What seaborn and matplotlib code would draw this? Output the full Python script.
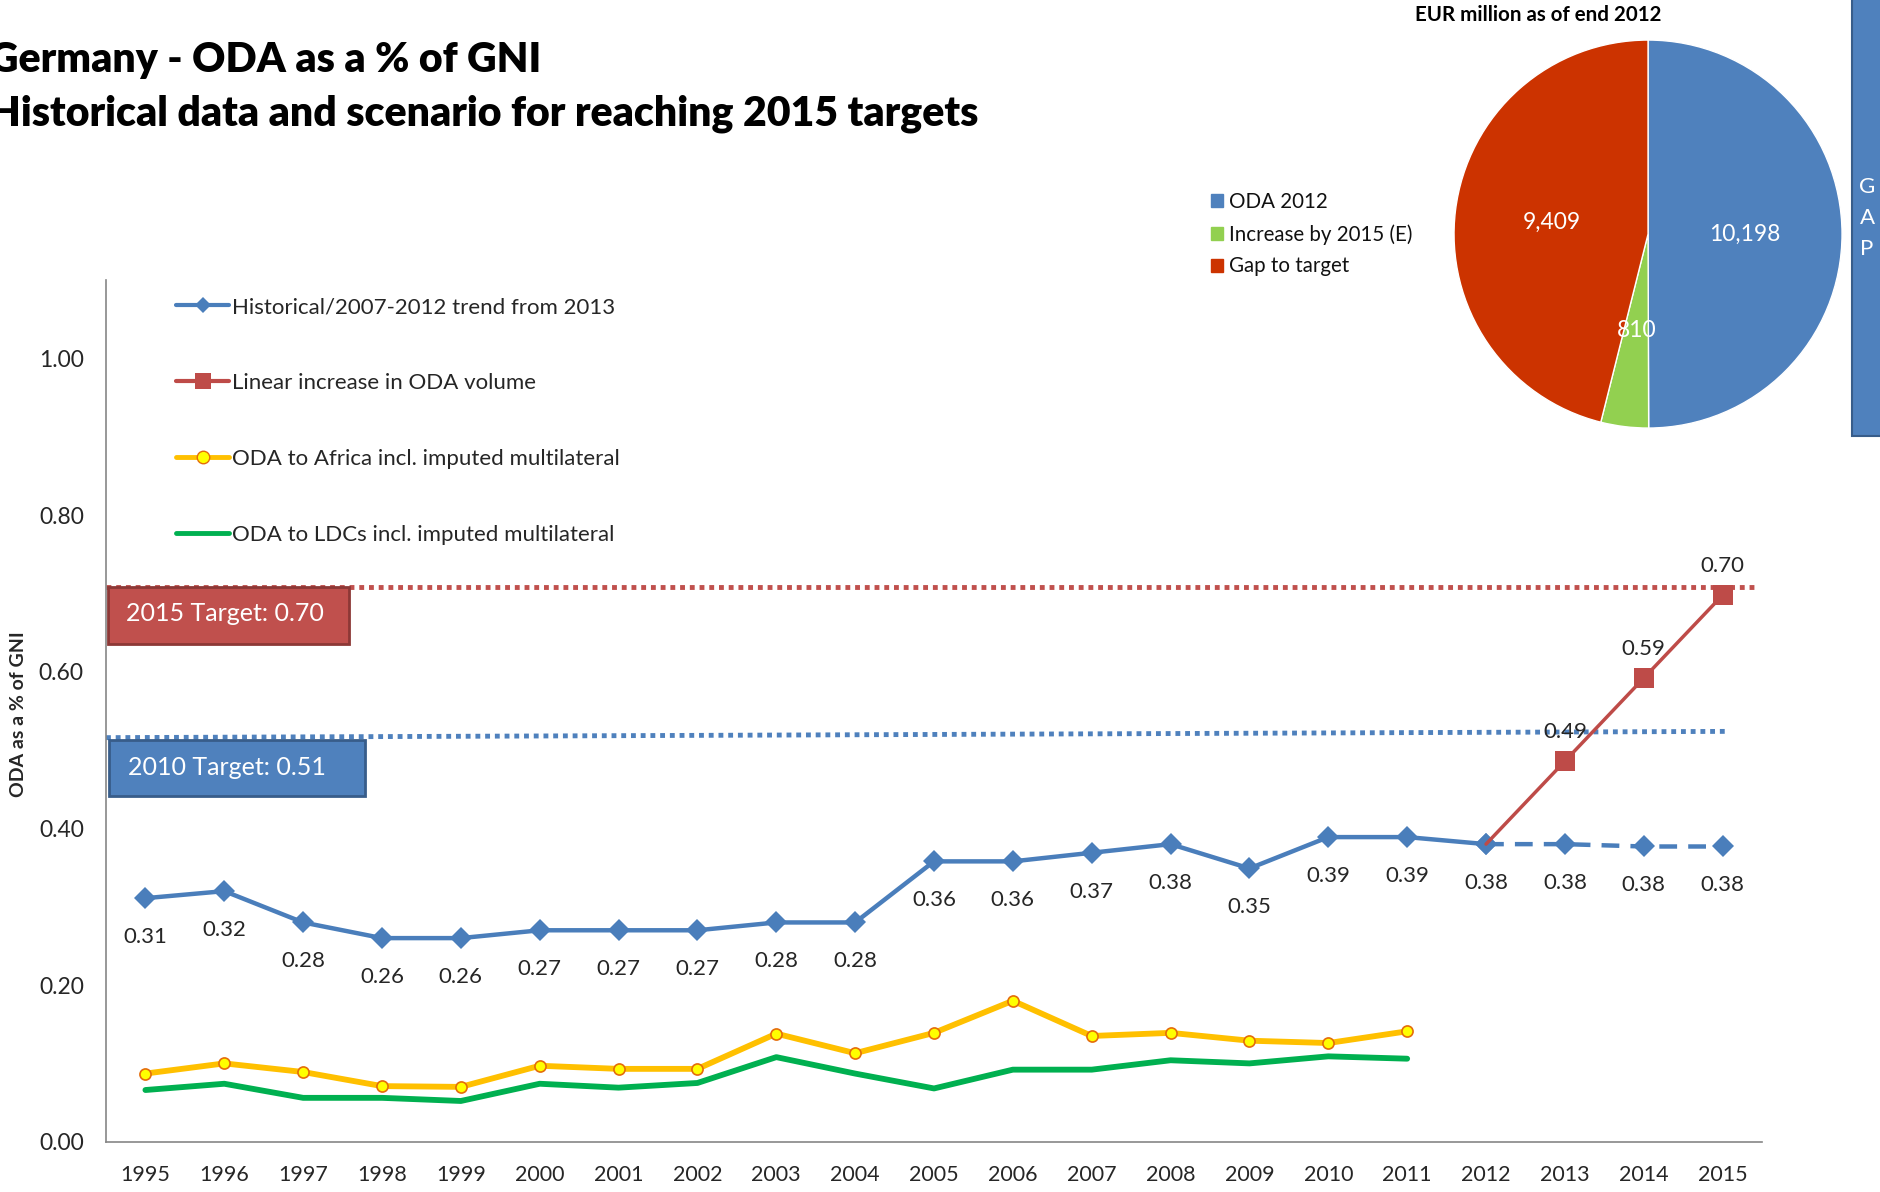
import matplotlib
matplotlib.use('Agg')
import matplotlib.pyplot as plt
import seaborn as sns
from matplotlib.lines import Line2D
from matplotlib.patches import Rectangle, Patch

# ---- data ----
years = list(range(1995, 2016))

hist_years = list(range(1995, 2013))
hist_values = [0.311, 0.320, 0.280, 0.260, 0.260, 0.270, 0.270, 0.270, 0.280, 0.280,
               0.358, 0.358, 0.369, 0.380, 0.349, 0.389, 0.389, 0.380]
hist_labels = ['0.31', '0.32', '0.28', '0.26', '0.26', '0.27', '0.27', '0.27', '0.28', '0.28',
               '0.36', '0.36', '0.37', '0.38', '0.35', '0.39', '0.39', '0.38']

trend_years = [2012, 2013, 2014, 2015]
trend_values = [0.380, 0.380, 0.377, 0.377]
trend_labels = ['', '0.38', '0.38', '0.38']

linear_years = [2012, 2013, 2014, 2015]
linear_values = [0.380, 0.486, 0.592, 0.698]
linear_labels = ['', '0.49', '0.59', '0.70']

africa_years = list(range(1995, 2012))
africa_values = [0.087, 0.100, 0.089, 0.071, 0.070, 0.097, 0.093, 0.093, 0.138, 0.113,
                 0.139, 0.180, 0.135, 0.139, 0.129, 0.126, 0.141]
ldc_values = [0.066, 0.074, 0.056, 0.056, 0.052, 0.074, 0.069, 0.075, 0.108, 0.087,
              0.068, 0.092, 0.092, 0.104, 0.100, 0.109, 0.106]

target2015_x = [1994.5, 2015.4]
target2015_y = [0.709, 0.709]
target2010_x = [1994.5, 2015.05]
target2010_y = [0.516, 0.524]

pie_names = ['ODA 2012', 'Increase by 2015 (E)', 'Gap to target']
pie_values = [10198, 810, 9409]
pie_labels = ['10,198', '810', '9,409']

BLUE = '#4a7ebb'
RED = '#be4b48'

sns.set_style('white')
plt.rcParams['font.family'] = ['Lato', 'DejaVu Sans']

fig = plt.figure(figsize=(18.81, 11.92), dpi=100)
ax = fig.add_axes([0.05635, 0.0422, 0.8804, 0.7226])

# lower series
sns.lineplot(x=africa_years, y=africa_values, ax=ax, color='#ffc000', lw=4.2,
             marker='o', markersize=8, markerfacecolor='#ffff00',
             markeredgecolor='#e46c0a', markeredgewidth=1.2)
sns.lineplot(x=africa_years, y=ldc_values, ax=ax, color='#00b050', lw=4.2)

# target lines
sns.lineplot(x=target2015_x, y=target2015_y, ax=ax, color='#c0504d', lw=3.5,
             linestyle=(0, (1, 1)))
sns.lineplot(x=target2010_x, y=target2010_y, ax=ax, color='#4f81bd', lw=3.5,
             linestyle=(0, (1, 1)))

# ODA series
sns.lineplot(x=hist_years, y=hist_values, ax=ax, color=BLUE, lw=3.2,
             marker='D', markersize=11, markeredgecolor=BLUE, markeredgewidth=0)
sns.lineplot(x=trend_years, y=trend_values, ax=ax, color=BLUE, lw=3.2, linestyle=(0, (4, 2.5)),
             marker='D', markersize=11, markeredgecolor=BLUE, markeredgewidth=0)
sns.lineplot(x=linear_years, y=linear_values, ax=ax, color=RED, lw=2.5,
             marker='s', markersize=14, markeredgecolor=RED, markeredgewidth=0,
             markevery=[1, 2, 3])

# data labels
for x, y, t in zip(hist_years + trend_years, hist_values + trend_values, hist_labels + trend_labels):
    if t:
        ax.annotate(t, (x, y), xytext=(0, -28), textcoords='offset points',
                    ha='center', va='center', fontsize=16, color='#262626')
for x, y, t in zip(linear_years, linear_values, linear_labels):
    if t:
        ax.annotate(t, (x, y), xytext=(0, 21), textcoords='offset points',
                    ha='center', va='center', fontsize=16, color='#262626')

# target boxes
ax.add_patch(Rectangle((1994.53, 0.636), 3.05, 0.073, fc='#c0504d', ec='#8c3836', lw=2, zorder=5))
ax.text(1994.76, 0.674, '2015 Target: 0.70', color='white', fontsize=18, va='center', zorder=6)
ax.add_patch(Rectangle((1994.54, 0.442), 3.25, 0.071, fc='#4f81bd', ec='#385d8a', lw=2, zorder=5))
ax.text(1994.78, 0.478, '2010 Target: 0.51', color='white', fontsize=18, va='center', zorder=6)

# axes styling
ax.set_xlim(1994.5, 2015.5)
ax.set_ylim(0, 1.1)
ax.set_yticks([0, 0.2, 0.4, 0.6, 0.8, 1.0])
ax.set_yticklabels(['%.2f' % v for v in [0, 0.2, 0.4, 0.6, 0.8, 1.0]])
ax.set_xticks(years)
ax.set_xticklabels([str(y) for y in years])
ax.set_xticks([y - 0.5 for y in years] + [2015.5], minor=True)
ax.tick_params(axis='x', which='major', length=0, pad=17, labelsize=15.5, labelcolor='#262626')
ax.tick_params(axis='x', which='minor', length=8, width=1.2, color='#868686', direction='out')
ax.tick_params(axis='y', length=5, width=1.2, color='#868686', direction='out', pad=11,
               labelsize=16.5, labelcolor='#262626')
for s in ['top', 'right']:
    ax.spines[s].set_visible(False)
for s in ['left', 'bottom']:
    ax.spines[s].set_color('#868686')
    ax.spines[s].set_linewidth(1.2)
ax.set_xlabel('')
ax.set_ylabel('')
ax.grid(False)

handles = [
    Line2D([], [], color=BLUE, lw=3, marker='D', markersize=8, markeredgewidth=0),
    Line2D([], [], color=RED, lw=3, marker='s', markersize=12, markeredgewidth=0),
    Line2D([], [], color='#ffc000', lw=3.5, marker='o', markersize=9,
           markerfacecolor='#ffff00', markeredgecolor='#e46c0a'),
    Line2D([], [], color='#00b050', lw=3.5),
]
ax.legend(handles, ['Historical/2007-2012 trend from 2013', 'Linear increase in ODA volume',
                    'ODA to Africa incl. imputed multilateral', 'ODA to LDCs incl. imputed multilateral'],
          loc='upper left', bbox_to_anchor=(176 / 1881, 1 - 297 / 1192), bbox_transform=fig.transFigure,
          frameon=False, fontsize=16, handlelength=2.4, handletextpad=0.1, labelspacing=2.52,
          borderpad=0, borderaxespad=0, labelcolor='#262626')

fig.text(0.0096, 0.401, 'ODA as a % of GNI', rotation=90, fontsize=14, fontweight='bold',
         ha='center', va='center')

# titles (left edge cut off, as in the original slide)
fig.text(-0.006, 1 - 60 / 1192, 'Germany - ODA as a % of GNI', fontsize=29.5, fontweight='heavy',
         va='center', color='black')
fig.text(-0.006, 1 - 114 / 1192, 'Historical data and scenario for reaching 2015 targets',
         fontsize=29.5, fontweight='heavy', va='center', color='black')

# pie chart
pax = fig.add_axes([0.7730, 0.6409, 0.2063, 0.3255])
wedges, texts = pax.pie(pie_values, labels=pie_labels, colors=['#4f81bd', '#92d050', '#cc3300'],
                        startangle=90, counterclock=False, labeldistance=0.5,
                        textprops=dict(color='white', fontsize=16.5))
for t in texts:
    t.set_ha('center')
pax.set_xlim(-1, 1)
pax.set_ylim(-1, 1)
fig.text(0.8177, 1 - 15 / 1192, 'EUR million as of end 2012', fontsize=14.8, fontweight='bold',
         ha='center', va='center', color='black')
fig.legend([Patch(color=c) for c in ['#4f81bd', '#92d050', '#cc3300']], pie_names,
           loc='upper left', bbox_to_anchor=(1211 / 1881, 1 - 192 / 1192), frameon=False,
           fontsize=14.8, handlelength=0.6, handleheight=0.6, handletextpad=0.3,
           labelspacing=0.58, borderpad=0, borderaxespad=0, labelcolor='#111111')

# GAP bar on right edge
fig.add_artist(Rectangle((0.9846, 0.634), 0.03, 0.37, transform=fig.transFigure,
                         fc='#4f81bd', ec='#385d8a', lw=1.5))
for i, ch in enumerate('GAP'):
    fig.text(0.9926, 0.843 - i * 0.026, ch, color='white', fontsize=16, ha='center', va='center')

fig.savefig('out.png', dpi=100)
